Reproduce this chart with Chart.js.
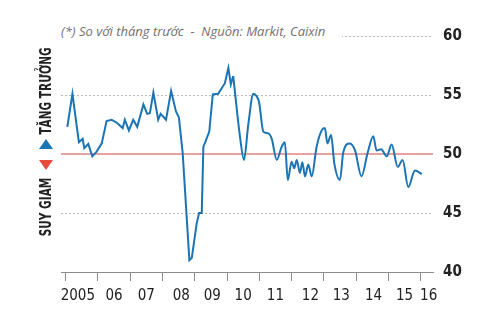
<!DOCTYPE html>
<html lang="vi">
<head>
<meta charset="UTF-8">
<title>PMI Trung Quốc</title>
<script src="https://cdn.jsdelivr.net/npm/chart.js"></script>
<style>
    body { margin: 0; background: #fff; }
    .wrap { position: relative; width: 500px; height: 330px; }
    canvas { position: absolute; left: 0; top: 0; }
    .note { position: absolute; left: 61px; top: 22px; width: 281px; height: 18px; background: #fff;
            font: italic 13px 'Open Sans', sans-serif; color: #707070; white-space: pre; line-height: 18px; }
    .side { position: absolute; transform: translate(-50%, -50%) rotate(-90deg) scaleX(0.78); white-space: nowrap;
            font: bold 15px 'DejaVu Sans Condensed', sans-serif; color: #222; line-height: 16px; }
    .tri { position: absolute; left: 39px; width: 0; height: 0;
           border-left: 7.5px solid transparent; border-right: 7.5px solid transparent; }
    .up { top: 139px; border-bottom: 10px solid #1b74b4; }
    .down { top: 160px; border-top: 10px solid #e84c3d; }
</style>
</head>
<body>
<div class="wrap">
    <canvas id="pmi" width="500" height="330"></canvas>
    <div class="note">(*) So với tháng trước  -  Nguồn: Markit, Caixin</div>
    <div class="side" style="left:46px; top:91px;">TĂNG TRƯỞNG</div>
    <div class="tri up"></div>
    <div class="tri down"></div>
    <div class="side" style="left:46px; top:207px;">SUY GIAM</div>
</div>
<script>
// tháng tính từ 01/2005 (0 = tháng 1/2005)
const yearTicks = [0, 12, 24, 36, 48, 60, 72, 84, 96, 108, 120, 132];
const yearLabels = ['2005', '06', '07', '08', '09', '10', '11', '12', '13', '14', '15', '16'];
const labelMonths = [4.5, 18, 30, 43, 54.5, 66, 78, 91, 102.5, 114.5, 126, 135];

// đoạn 2005 - giữa 2010 (đường gấp khúc)
const monthsA = [0.6, 2.5, 4.9, 6.3, 6.9, 8.4, 9.9, 11.5, 13.4, 15.2, 17.1, 19.0, 21.2, 22.0, 23.5,
    25.1, 26.6, 28.9, 30.3, 31.3, 32.6, 34.4, 35.3, 37.3, 39.2, 41.0, 42.1, 43.5, 46.0, 46.9,
    48.7, 49.6, 50.6, 51.2, 53.4, 54.7, 56.7, 59.2, 60.5, 61.4, 62.3];
const pmiA = [52.3, 55.1, 51.0, 51.3, 50.5, 50.85, 49.8, 50.2, 50.9, 52.8, 52.9, 52.65, 52.2, 52.9, 52.0,
    52.9, 52.3, 54.2, 53.4, 53.45, 55.2, 52.9, 53.4, 52.9, 55.35, 53.6, 53.1, 50.1, 41.0, 41.2,
    44.1, 45.0, 45.0, 50.6, 51.9, 55.05, 55.1, 56.0, 57.3, 55.9, 56.6];

// đoạn giữa 2010 - 2015 (đường cong)
const monthsB = [62.3, 64.8, 66.3, 67.9, 69.8, 71.0, 71.9, 73.5, 75.3, 76.6, 78.5, 80.3, 81.5, 82.6,
    84.0, 85.0, 85.9, 87.1, 88.0, 89.0, 90.2, 91.5, 93.3, 95.2, 96.4, 97.3, 98.7, 99.9, 102.0,
    103.2, 105.7, 107.6, 110.0, 112.3, 114.4, 115.6, 117.3, 119.4, 121.2, 123.5, 125.3, 127.4,
    129.9, 132.4];
const pmiB = [56.6, 51.5, 49.5, 52.5, 55.1, 54.9, 54.4, 51.9, 51.75, 51.3, 49.5, 50.6, 51.0, 47.8,
    49.35, 48.8, 49.5, 48.4, 49.3, 48.1, 49.1, 48.1, 50.6, 52.0, 52.2, 50.9, 51.6, 49.2, 47.8,
    50.1, 50.9, 50.3, 48.1, 50.1, 51.5, 50.3, 50.4, 49.8, 50.8, 48.9, 49.5, 47.2,
    48.6, 48.3];

const X_MIN = -1.75, X_MAX = 136.6;
const LINE_BLUE = '#1b74b4';
const AXIS_FONT = "'DejaVu Sans Condensed', sans-serif";

function toPoints(xs, ys) {
    return xs.map((x, i) => ({ x: x, y: ys[i] }));
}

const ctx = document.getElementById('pmi');
new Chart(ctx, {
    type: 'line',
    data: {
        datasets: [
            {
                // ngưỡng 50
                data: [{ x: X_MIN, y: 50 }, { x: X_MAX, y: 50 }],
                borderColor: '#e8a2a2',
                borderWidth: 2,
                pointRadius: 0,
                order: 3
            },
            {
                data: toPoints(monthsA, pmiA),
                borderColor: LINE_BLUE,
                borderWidth: 2,
                pointRadius: 0,
                tension: 0,
                order: 1
            },
            {
                data: toPoints(monthsB, pmiB),
                borderColor: LINE_BLUE,
                borderWidth: 2,
                pointRadius: 0,
                cubicInterpolationMode: 'monotone',
                order: 1
            }
        ]
    },
    options: {
        responsive: false,
        animation: false,
        layout: { padding: { left: 61, top: 36, right: 0, bottom: 0 } },
        plugins: { legend: { display: false }, tooltip: { enabled: false } },
        scales: {
            x: {
                type: 'linear', position: 'bottom', min: X_MIN, max: X_MAX, weight: 0,
                afterBuildTicks: axis => { axis.ticks = yearTicks.map(v => ({ value: v })); },
                afterFit: axis => { axis.height = 9; },
                ticks: { display: false },
                grid: { drawOnChartArea: false, tickLength: 9, color: '#8c8c8c' },
                border: { color: '#8c8c8c' }
            },
            xl: {
                type: 'linear', position: 'bottom', min: X_MIN, max: X_MAX, weight: 1,
                afterBuildTicks: axis => { axis.ticks = labelMonths.map(v => ({ value: v })); },
                afterFit: axis => { axis.height = 49; },
                ticks: {
                    callback: (v, i) => yearLabels[i],
                    maxRotation: 0, autoSkip: false, padding: -2,
                    color: '#222',
                    font: { family: AXIS_FONT, size: 15 }
                },
                grid: { display: false },
                border: { display: false }
            },
            y: {
                position: 'right', min: 40, max: 60,
                afterFit: axis => { axis.width = 67; },
                ticks: {
                    stepSize: 5, padding: 10, color: '#222',
                    font: { family: AXIS_FONT, size: 15, weight: 'bold' }
                },
                grid: {
                    drawTicks: false,
                    color: c => (c.tick.value === 40 || c.tick.value === 50) ? 'rgba(0,0,0,0)' : '#b8b8b8'
                },
                border: { display: false, dash: [2, 2] }
            }
        }
    }
});
</script>
</body>
</html>
